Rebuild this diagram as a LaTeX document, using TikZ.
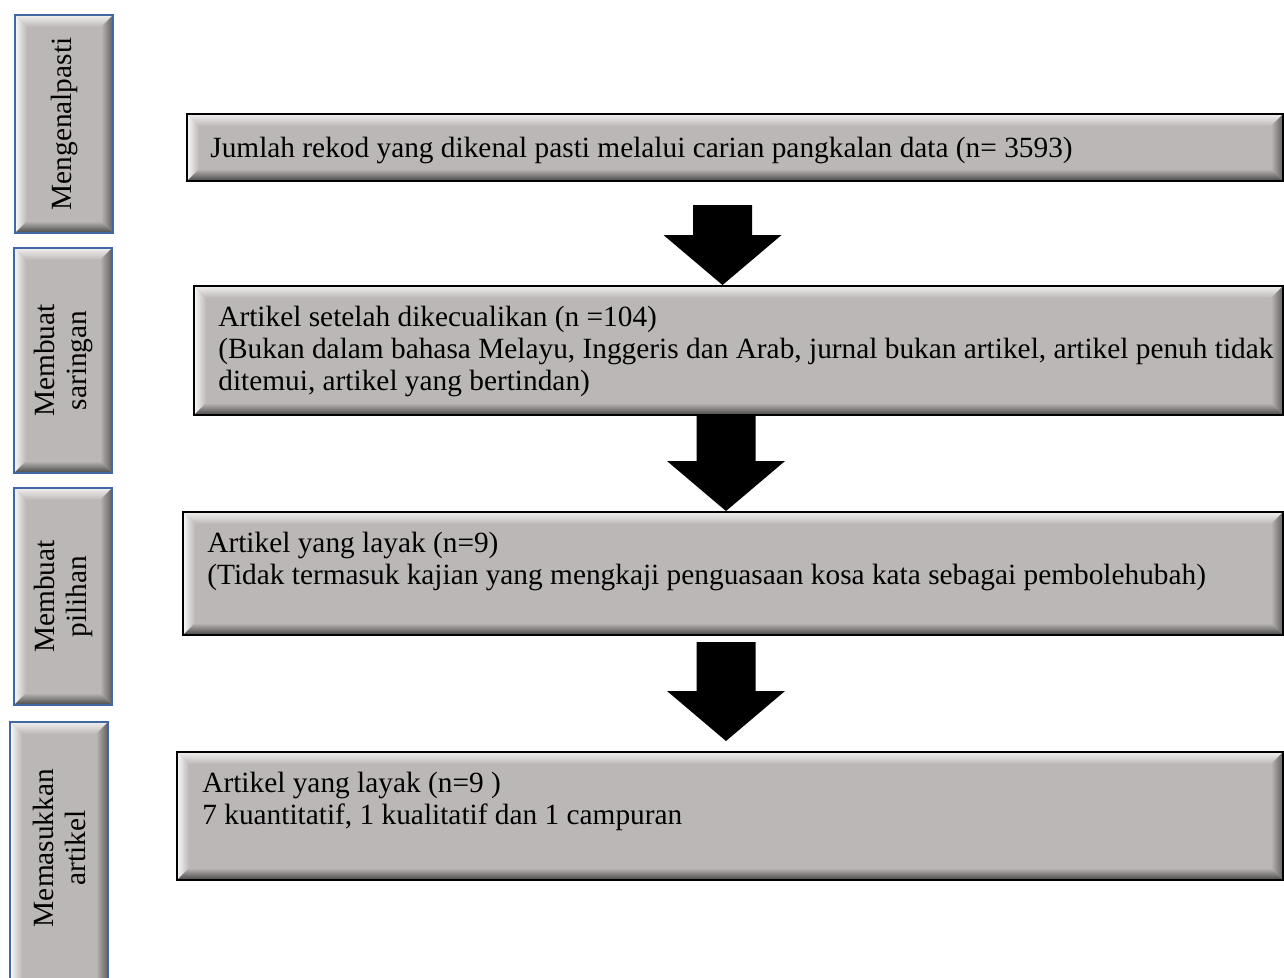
\documentclass[tikz,border=0pt]{standalone}
\usepackage{fontspec}
\setmainfont{Liberation Serif}
\usepackage{tikz}
\usetikzlibrary{positioning}
\usetikzlibrary{calc,fit}

\definecolor{facegray}{RGB}{187,183,182}
\definecolor{bevtop}{RGB}{242,240,240}
\definecolor{bevleft}{RGB}{250,250,250}
\definecolor{bevright}{RGB}{96,94,94}
\definecolor{bevbottom}{RGB}{72,70,70}
\definecolor{tabblue}{RGB}{66,104,164}

% bevelled box, drawn from the node's own bounding box
\tikzset{
	bevel/.style={
		fill=facegray, line width=1.1pt, inner sep=0pt,
		path picture={
			\coordinate (pp-nw) at (path picture bounding box.north west);
			\coordinate (pp-ne) at (path picture bounding box.north east);
			\coordinate (pp-sw) at (path picture bounding box.south west);
			\coordinate (pp-se) at (path picture bounding box.south east);
			\shade[top color=bevtop, bottom color=facegray]
				(pp-nw) -- (pp-ne) -- ([shift={(-12,12)}]pp-ne) -- ([shift={(12,12)}]pp-nw) -- cycle;
			\shade[left color=bevleft, right color=facegray]
				(pp-nw) -- ([shift={(12,12)}]pp-nw) -- ([shift={(12,-12)}]pp-sw) -- (pp-sw) -- cycle;
			\shade[left color=facegray, right color=bevright]
				(pp-ne) -- (pp-se) -- ([shift={(-12,-12)}]pp-se) -- ([shift={(-12,12)}]pp-ne) -- cycle;
			\shade[top color=facegray, bottom color=bevbottom]
				(pp-sw) -- (pp-se) -- ([shift={(-12,-12)}]pp-se) -- ([shift={(12,-12)}]pp-sw) -- cycle;
		}
	},
	databox/.style={bevel, draw=black},
	stagetab/.style={bevel, draw=tabblue},
	% base of a multi-line node is its last line
	boxtext/.style={anchor=base west, align=left, inner sep=0pt},
	tabtext/.style={rotate=90, align=center, inner sep=0pt},
}

% block arrow: #1 = top of the shaft, #2 = tip
\newcommand{\blockarrow}[2]{%
	\fill ($(#1)+(-29.5,0)$) -- ($(#1)+(29.5,0)$) -- ($(#2)+(29.5,-50)$) -- ($(#2)+(59,-50)$)
		-- (#2) -- ($(#2)+(-59,-50)$) -- ($(#2)+(-29.5,-50)$) -- cycle;
}

\begin{document}
\begin{tikzpicture}[x=0.02cm, y=-0.02cm, font=\fontsize{16.7}{18.2}\selectfont]
	
	\useasboundingbox (0,0) rectangle (1284,977);
	
	% stages on the left
	\node[stagetab, fit={(15,15) (113,233)}] (tab1) {};
	\node[stagetab, fit={(14,248) (112,473)}] (tab2) {};
	\node[stagetab, fit={(14,488) (112,705)}] (tab3) {};
	\node[stagetab, fit={(10,722) (108,995)}] (tab4) {};
	
	\node[tabtext] (lbl1) at (tab1.center) {Mengenalpasti};
	\node[tabtext] (lbl2) at (tab2.center) {Membuat\\saringan};
	\node[tabtext] (lbl3) at (tab3.center) {Membuat\\pilihan};
	\node[tabtext] (lbl4) at ($(tab4.north)+(0,127)$) {Memasukkan\\artikel};
	
	% boxes on the right
	\node[databox, fit={(187,114) (1283,181)}] (box1) {};
	\node[databox, fit={(194,286) (1283,415)}] (box2) {};
	\node[databox, fit={(183,512) (1283,635)}] (box3) {};
	\node[databox, fit={(177,752) (1283,880)}] (box4) {};
	
	\node[boxtext] (txt1) at (210,157) {Jumlah rekod yang dikenal pasti melalui carian pangkalan data (n= 3593)};
	\node[boxtext] (txt2) at (218,390) {Artikel setelah dikecualikan (n =104)\\
		(Bukan dalam bahasa Melayu, Inggeris dan Arab, jurnal bukan artikel, artikel penuh tidak\\
		ditemui, artikel yang bertindan)};
	\node[boxtext] (txt3) at (207,584) {Artikel yang layak (n=9)\\
		(Tidak termasuk kajian yang mengkaji penguasaan kosa kata sebagai pembolehubah)};
	\node[boxtext] (txt4) at (202,824) {Artikel yang layak (n=9 )\\
		7 kuantitatif, 1 kualitatif dan 1 campuran};
	
	% arrows between the boxes
	\coordinate (a1s) at (722.5,205);
	\coordinate (a1t) at (a1s |- box2.north);
	\coordinate (a2s) at (box2.south -| 726,0);
	\coordinate (a2t) at (a2s |- box3.north);
	\coordinate (a3s) at (726,642);
	\coordinate (a3t) at (726,741);
	
	\blockarrow{a1s}{a1t}
	\blockarrow{a2s}{a2t}
	\blockarrow{a3s}{a3t}
	
\end{tikzpicture}
\end{document}
